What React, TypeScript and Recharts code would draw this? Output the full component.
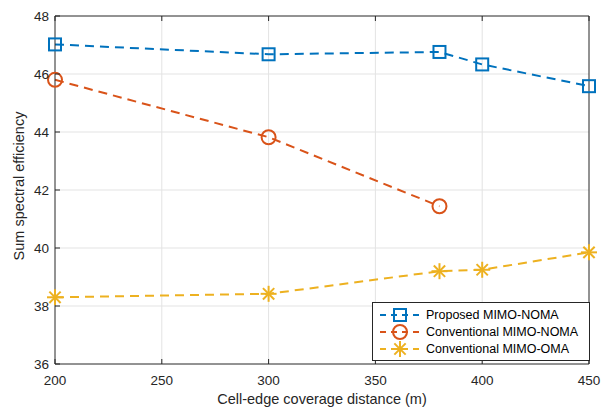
import React from 'react';
import { LineChart, Line, XAxis, YAxis, CartesianGrid } from 'recharts';

const distances = [200, 300, 380, 400, 450];
const proposedNoma = [47.02, 46.68, 46.76, 46.33, 45.58];
const conventionalNoma = [45.8, 43.82, 41.44, null, null];
const conventionalOma = [38.3, 38.42, 39.2, 39.25, 39.85];
const xTicks = [200, 250, 300, 350, 400, 450];
const yTicks = [36, 38, 40, 42, 44, 46, 48];
const seriesNames = ['Proposed MIMO-NOMA', 'Conventional MIMO-NOMA', 'Conventional MIMO-OMA'];

const data = distances.map((d, i) => ({
  d,
  p: proposedNoma[i],
  c: conventionalNoma[i],
  o: conventionalOma[i],
}));

const BLUE = '#0072BD';
const ORANGE = '#D95319';
const YELLOW = '#EDB120';
const AXIS = '#262626';
const FONT = '"Liberation Sans", Arial, sans-serif';
const DASH = '9 6';

const SquareDot = (props: any) => {
  const { cx, cy } = props;
  if (cx == null || cy == null) return null;
  return <rect x={cx - 6} y={cy - 6} width={12} height={12} fill="none" stroke={BLUE} strokeWidth={2} />;
};
const CircleDot = (props: any) => {
  const { cx, cy, value } = props;
  if (cx == null || cy == null || value == null) return null;
  return <circle cx={cx} cy={cy} r={7} fill="none" stroke={ORANGE} strokeWidth={2} />;
};
const StarDot = (props: any) => {
  const { cx, cy } = props;
  if (cx == null || cy == null) return null;
  const r = 8;
  const d = r * 0.707;
  return (
    <g stroke={YELLOW} strokeWidth={2}>
      <line x1={cx - r} y1={cy} x2={cx + r} y2={cy} />
      <line x1={cx} y1={cy - r} x2={cx} y2={cy + r} />
      <line x1={cx - d} y1={cy - d} x2={cx + d} y2={cy + d} />
      <line x1={cx - d} y1={cy + d} x2={cx + d} y2={cy - d} />
    </g>
  );
};

const TM = 12;
const BottomTick = (props: any) => {
  const { x, y, payload } = props;
  const ay = y - TM;
  return (
    <g>
      <line x1={x} y1={ay} x2={x} y2={ay - 5} stroke={AXIS} strokeWidth={1} />
      <text x={x} y={ay + 21} textAnchor="middle" fontSize={13.5} fill={AXIS} fontFamily={FONT}>
        {payload.value}
      </text>
    </g>
  );
};
const TopTick = (props: any) => {
  const { x, y } = props;
  const ay = y + TM;
  return <line x1={x} y1={ay} x2={x} y2={ay + 5} stroke={AXIS} strokeWidth={1} />;
};
const LeftTick = (props: any) => {
  const { x, y, payload } = props;
  const ax = x + TM;
  return (
    <g>
      <line x1={ax} y1={y} x2={ax + 5} y2={y} stroke={AXIS} strokeWidth={1} />
      <text x={ax - 6} y={y + 5} textAnchor="end" fontSize={13.5} fill={AXIS} fontFamily={FONT}>
        {payload.value}
      </text>
    </g>
  );
};
const RightTick = (props: any) => {
  const { x, y } = props;
  const ax = x - TM;
  return <line x1={ax} y1={y} x2={ax - 5} y2={y} stroke={AXIS} strokeWidth={1} />;
};

const legendItems = [
  { name: seriesNames[0], color: BLUE, kind: 'square' },
  { name: seriesNames[1], color: ORANGE, kind: 'circle' },
  { name: seriesNames[2], color: YELLOW, kind: 'star' },
];

const LegendMarker = ({ kind }: { kind: string }) => {
  const cx = 21;
  const cy = 8;
  if (kind === 'square') return <SquareDot cx={cx} cy={cy} />;
  if (kind === 'circle') return <CircleDot cx={cx} cy={cy} value={1} />;
  return <StarDot cx={cx} cy={cy} />;
};

const LegendBox = () => (
  <div
    style={{
      position: 'absolute',
      left: 372,
      top: 302,
      border: `1px solid ${AXIS}`,
      background: '#fff',
      padding: '3px 8px 3px 6px',
      width: 218,
      boxSizing: 'border-box',
      fontFamily: FONT,
      fontSize: 12.5,
      color: '#000',
      whiteSpace: 'nowrap',
    }}
  >
    {legendItems.map((it) => (
      <div key={it.name} style={{ display: 'flex', alignItems: 'center', height: 17 }}>
        <svg width={42} height={16} style={{ marginRight: 5, flex: 'none' }}>
          <line x1={1} y1={8} x2={41} y2={8} stroke={it.color} strokeWidth={2} strokeDasharray="6 5" />
          <LegendMarker kind={it.kind} />
        </svg>
        <span>{it.name}</span>
      </div>
    ))}
  </div>
);

export default function App() {
  return (
    <div style={{ position: 'absolute', left: 0, top: 0, width: 606, height: 409, background: '#fff' }}>
      <LineChart width={606} height={409} data={data} margin={{ top: 15, right: 16, bottom: 0, left: 0 }}>
        <CartesianGrid stroke="#e3e3e3" strokeWidth={1} verticalValues={[250, 300, 350, 400]} horizontalValues={[38, 40, 42, 44, 46]} />
        <XAxis
          dataKey="d"
          type="number"
          domain={[200, 450]}
          ticks={xTicks}
          height={45}
          tickSize={0}
          tickMargin={TM}
          tick={<BottomTick />}
          axisLine={{ stroke: AXIS }}
          interval={0}
          label={{
            content: (p: any) => {
              const vb = p.viewBox;
              return (
                <text x={vb.x + vb.width / 2} y={vb.y + 40} textAnchor="middle" fontSize={14.5} fill={AXIS} fontFamily={FONT}>
                  Cell-edge coverage distance (m)
                </text>
              );
            },
          }}
        />
        <XAxis
          xAxisId="top"
          orientation="top"
          dataKey="d"
          type="number"
          domain={[200, 450]}
          ticks={xTicks}
          height={1}
          tickSize={0}
          tickMargin={TM}
          tick={<TopTick />}
          axisLine={{ stroke: AXIS }}
          interval={0}
        />
        <YAxis
          type="number"
          domain={[36, 48]}
          ticks={yTicks}
          width={55}
          tickSize={0}
          tickMargin={TM}
          tick={<LeftTick />}
          axisLine={{ stroke: AXIS }}
          interval={0}
          label={{
            content: (p: any) => {
              const vb = p.viewBox;
              const cx = 24;
              const cy = vb.y + vb.height / 2 - 4;
              return (
                <text x={cx} y={cy} transform={`rotate(-90 ${cx} ${cy})`} textAnchor="middle" fontSize={14.5} fill={AXIS} fontFamily={FONT}>
                  Sum spectral efficiency
                </text>
              );
            },
          }}
        />
        <YAxis
          yAxisId="right"
          orientation="right"
          type="number"
          domain={[36, 48]}
          ticks={yTicks}
          width={1}
          tickSize={0}
          tickMargin={TM}
          tick={<RightTick />}
          axisLine={{ stroke: AXIS }}
          interval={0}
        />
        <Line dataKey="p" name={seriesNames[0]} stroke={BLUE} strokeWidth={2} strokeDasharray={DASH} dot={<SquareDot />} activeDot={false} isAnimationActive={false} />
        <Line dataKey="c" name={seriesNames[1]} stroke={ORANGE} strokeWidth={2} strokeDasharray={DASH} dot={<CircleDot />} activeDot={false} isAnimationActive={false} />
        <Line dataKey="o" name={seriesNames[2]} stroke={YELLOW} strokeWidth={2} strokeDasharray={DASH} dot={<StarDot />} activeDot={false} isAnimationActive={false} />
      </LineChart>
      <LegendBox />
    </div>
  );
}
